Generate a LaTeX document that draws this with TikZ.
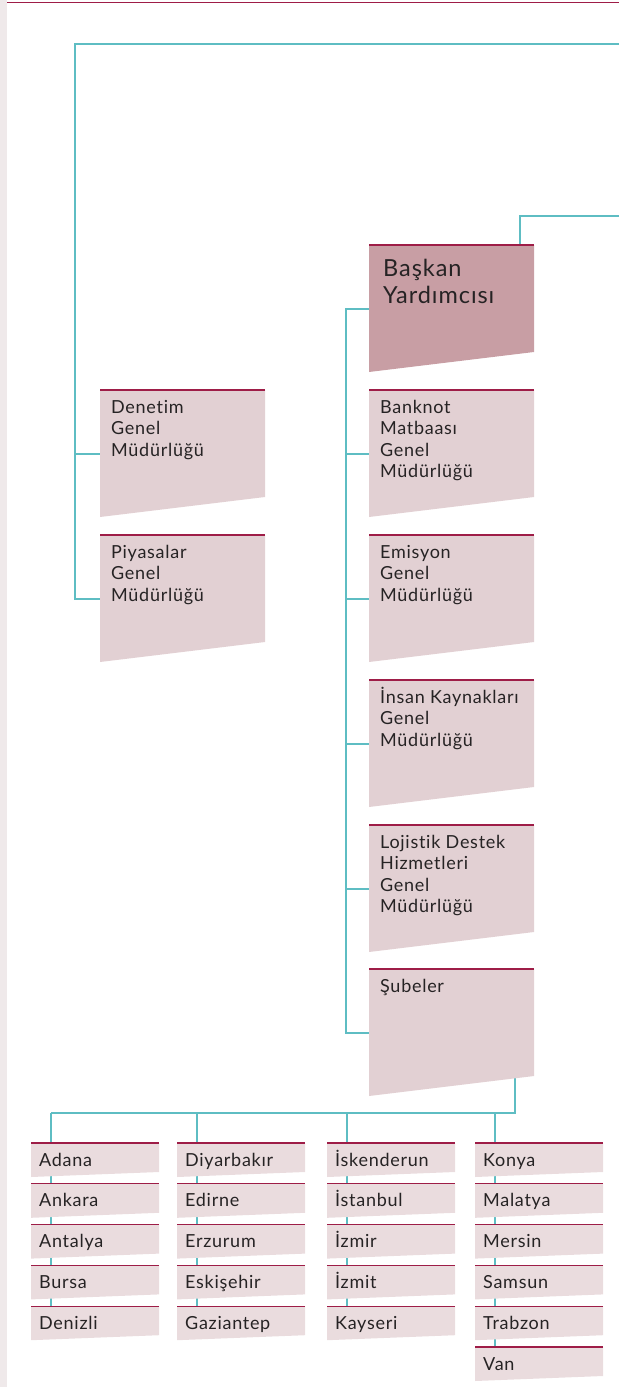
\documentclass[tikz,border=0pt]{standalone}
\usepackage{fontspec}
\setmainfont{Lato}[LetterSpace=4, Ligatures=NoCommon]
\usetikzlibrary{calc}
\definecolor{stripgray}{HTML}{EFE9EA}
\definecolor{headred}{HTML}{9E1D47}
\definecolor{linkteal}{HTML}{5EBDC3}
\definecolor{boxrose}{HTML}{E2D0D3}
\definecolor{chiefrose}{HTML}{C89EA4}
\definecolor{cityrose}{HTML}{EADCDE}
\definecolor{inkgray}{HTML}{262324}
\pgfdeclarelayer{back}
\pgfsetlayers{back,main}
\newcommand{\plainfont}{\fontsize{18}{21.5}\selectfont}
\newcommand{\chieffont}{\fontsize{23.5}{27.5}\selectfont}
\tikzset{
  link/.style={linkteal, line width=1.3pt},
  headline/.style={headred, line width=1.3pt},
  boxtext/.style={anchor=north west, inner sep=0pt, align=left, text=inkgray,
    font=\plainfont, xshift=11pt, yshift=-5pt},
  chieftext/.style={anchor=north west, inner sep=0pt, align=left, text=inkgray,
    font=\chieffont, xshift=14pt, yshift=-7.5pt},
  citytext/.style={anchor=base west, inner sep=0pt, text=inkgray, font=\plainfont},
}
% #1 name, #2 x, #3 y, #4 fill, #5 text style, #6 text
\newcommand{\orgbox}[6]{%
  \fill[#4] (#2,#3) -- ++(165,0) -- ++(0,107) -- ++(-165,20) -- cycle;
  \draw[headline] (#2,#3) -- ++(165,0);
  \node[#5] (#1) at (#2,#3) {\rule{0pt}{1em}#6};
  \coordinate (#1-w) at (#2,#3+64);
}

\begin{document}
\begin{tikzpicture}[x=1pt, y=-1pt]
  \useasboundingbox (0,0) rectangle (619,1387);
  % page edge
  \fill[stripgray] (0,0) rectangle (7,1387);
  \draw[headred, line width=1.5pt] (7,2.5) -- (619,2.5);
  % boxes
  \orgbox{baskan}{369}{245}{chiefrose}{chieftext}{Başkan\\Yardımcısı}
  \orgbox{denetim}{100}{390}{boxrose}{boxtext}{Denetim\\Genel\\Müdürlüğü}
  \orgbox{piyasa}{100}{535}{boxrose}{boxtext}{Piyasalar\\Genel\\Müdürlüğü}
  \orgbox{banknot}{369}{390}{boxrose}{boxtext}{Banknot\\Matbaası\\Genel\\Müdürlüğü}
  \orgbox{emisyon}{369}{535}{boxrose}{boxtext}{Emisyon\\Genel\\Müdürlüğü}
  \orgbox{insan}{369}{680}{boxrose}{boxtext}{İnsan Kaynakları\\Genel\\Müdürlüğü}
  \orgbox{lojistik}{369}{825}{boxrose}{boxtext}{Lojistik Destek\\Hizmetleri\\Genel\\Müdürlüğü}
  \orgbox{sube}{369}{969}{boxrose}{boxtext}{Şubeler}
  \coordinate (baskan-n) at (520,245);
  \coordinate (sube-s) at (515,1075);
  \coordinate (top-e) at (619,44);
  \coordinate (mid-e) at (619,216);
  \coordinate (bus) at (51,1113);
  % branches
  \foreach \cx/\names [count=\c] in {31/{Adana,Ankara,Antalya,Bursa,Denizli},
      177/{Diyarbakır,Edirne,Erzurum,Eskişehir,Gaziantep},
      327/{İskenderun,İstanbul,İzmir,İzmit,Kayseri},
      475/{Konya,Malatya,Mersin,Samsun,Trabzon,Van}} {
    \coordinate (col-\c) at (\cx+20,1113);
    \foreach \nm [count=\k] in \names {
      \fill[cityrose] (\cx,1143+40.8*\k-40.8) -- ++(128,0) -- ++(0,29) -- ++(-128,5) -- cycle;
      \draw[headline] (\cx,1143+40.8*\k-40.8) -- ++(128,0);
      \node[citytext] (city-\c-\k) at (\cx+8,1166+40.8*\k-40.8) {\nm};
      \coordinate (last-\c) at (\cx+20,1143+40.8*\k-40.8);
    }
    \begin{pgfonlayer}{back}
      \draw[link] (col-\c) -- (last-\c);
    \end{pgfonlayer}
  }
  % connectors
  \begin{pgfonlayer}{back}
    \draw[link] (top-e) -| ($(piyasa-w)+(-25,0)$) -- (piyasa-w);
    \draw[link] ($(denetim-w)+(-25,0)$) -- (denetim-w);
    \draw[link] (mid-e) -| (baskan-n);
    \draw[link] (baskan-w) -- ++(-23,0) |- (sube-w);
    \foreach \b in {banknot,emisyon,insan,lojistik}
      \draw[link] ($(\b-w)+(-23,0)$) -- (\b-w);
    \draw[link] (sube-s) |- (bus);
  \end{pgfonlayer}
\end{tikzpicture}
\end{document}
